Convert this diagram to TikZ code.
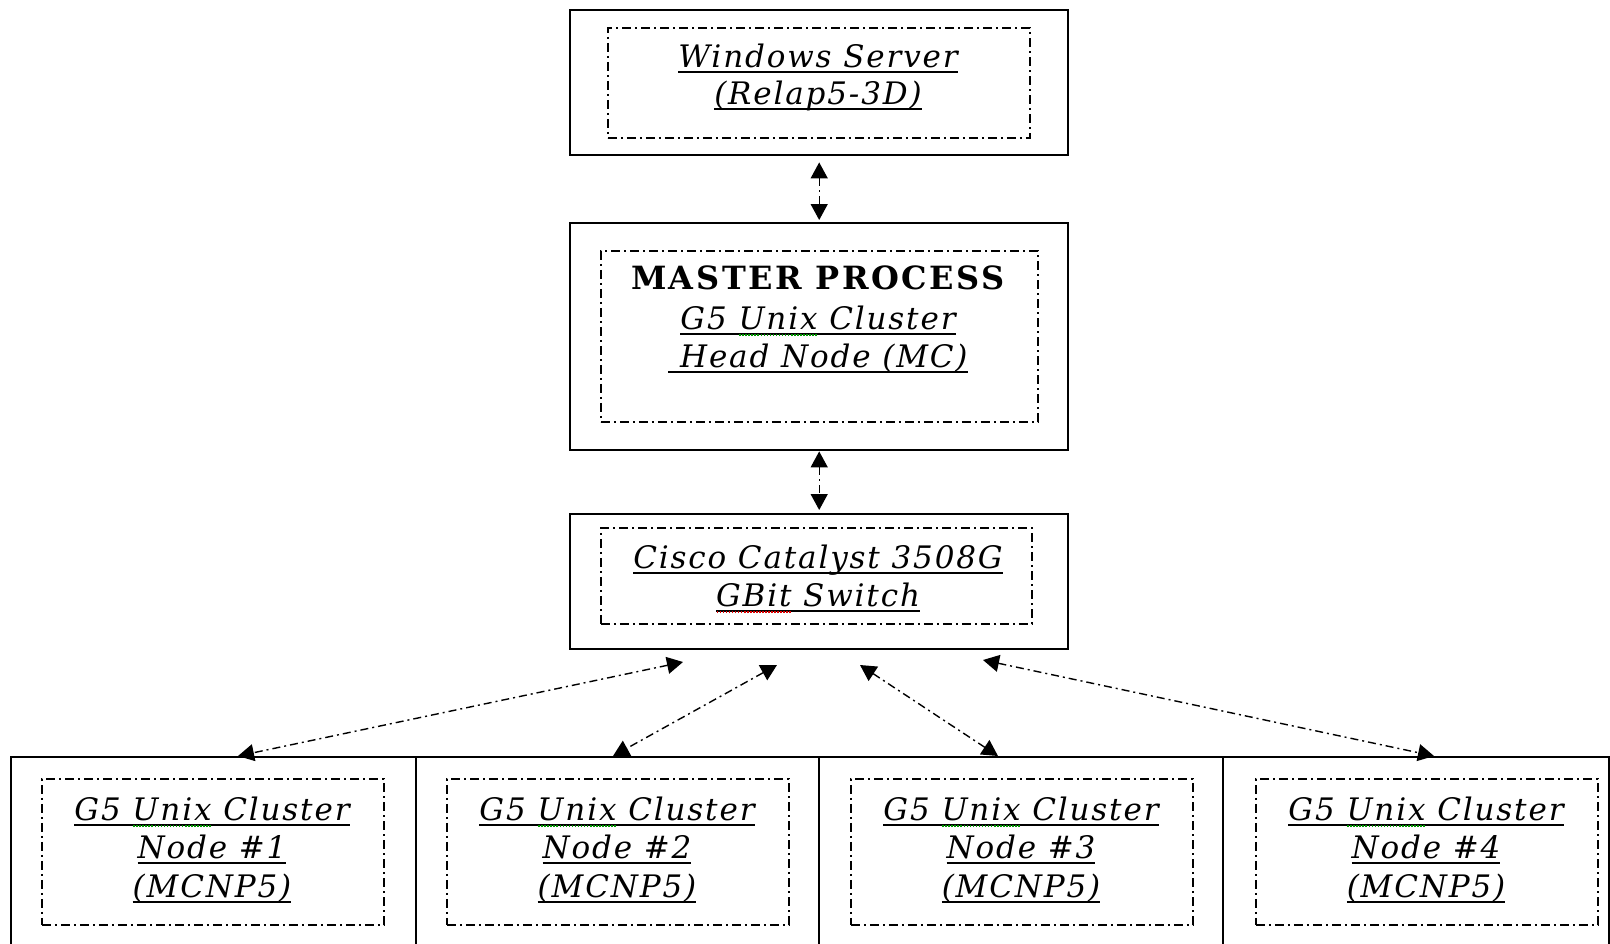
\documentclass[tikz,border=0pt]{standalone}
\usepackage{fontspec}
\setmainfont{DejaVu Serif}
\newfontfamily\lblfont[LetterSpace=6]{DejaVu Serif}
\newfontfamily\boldlblfont[LetterSpace=8]{DejaVu Serif}
\usetikzlibrary{arrows.meta}
\newsavebox\ulbox
\newsavebox\sqbox
\newcommand\myul[1]{\sbox\ulbox{#1}\rlap{\rule[-6pt]{\wd\ulbox}{1.8pt}}\usebox\ulbox}
\newcommand\sqig[2]{\sbox\sqbox{#2}\rlap{\color{#1}\raisebox{-7pt}{\hbox to\wd\sqbox{\xleaders\hbox to 3pt{\hss\rule{1.6pt}{1.6pt}\hss}\hfill}}}\usebox\sqbox}
\definecolor{spellgreen}{RGB}{0,150,0}
\definecolor{spellred}{RGB}{220,0,0}
\begin{document}
\begin{tikzpicture}[x=1pt,y=-1pt,
  outerbox/.style={draw,line width=2.4pt,inner sep=0pt,anchor=north west},
  innerbox/.style={draw,line width=1.5pt,dash pattern=on 9pt off 4pt on 2pt off 4pt,inner sep=0pt,anchor=north west},
  conn/.style={line width=1.4pt,dash pattern=on 8pt off 4pt on 2pt off 4pt,
    {Triangle[length=16pt,width=17pt]}-{Triangle[length=16pt,width=17pt]}},
  lbl/.style={font=\fontsize{31}{36}\lblfont\itshape,inner sep=0pt,anchor=base},
  boldlbl/.style={font=\fontsize{32}{36}\boldlblfont\bfseries,inner sep=0pt,anchor=base}]
\useasboundingbox (0,0) rectangle (1610,943);
% top
\node[outerbox,minimum width=498,minimum height=145] (top) at (569,9) {};
\node[innerbox,minimum width=422,minimum height=110] (topin) at (607,27) {};
\node[lbl] (t1) at (818,67) {\myul{Windows Server}};
\node[lbl] (t2) at (818,104) {\myul{(Relap5-3D)}};
% master
\node[outerbox,minimum width=498,minimum height=227] (master) at (569,222) {};
\node[innerbox,minimum width=437,minimum height=171] (masterin) at (600,250) {};
\node[boldlbl] (m1) at (818,289) {MASTER PROCESS};
\node[lbl] (m2) at (818,329) {\myul{G5 \sqig{spellgreen}{Unix} Cluster}};
\node[lbl] (m3) at (818,367) {\myul{ Head Node (MC)}};
% switch
\node[outerbox,minimum width=498,minimum height=135] (sw) at (569,513) {};
\node[innerbox,minimum width=431,minimum height=96] (swin) at (600,527) {};
\node[lbl] (s1) at (818,568) {\myul{Cisco Catalyst 3508G}};
\node[lbl] (s2) at (818,606) {\myul{\sqig{spellred}{GBit} Switch}};
% bottom nodes
\node[outerbox,minimum width=405,minimum height=220] (n1) at (10,756) {};
\node[outerbox,minimum width=403,minimum height=220] (n2) at (415,756) {};
\node[outerbox,minimum width=404,minimum height=220] (n3) at (818,756) {};
\node[outerbox,minimum width=386,minimum height=220] (n4) at (1222,756) {};
\node[innerbox,minimum width=342,minimum height=146] (in1) at (41,778) {};
\node[innerbox,minimum width=342,minimum height=146] (in2) at (446,778) {};
\node[innerbox,minimum width=342,minimum height=146] (in3) at (850,778) {};
\node[innerbox,minimum width=342,minimum height=146] (in4) at (1255,778) {};
\foreach \i/\cx in {1/212,2/617,3/1021,4/1426}{
  \node[lbl] (a\i) at (\cx,820) {\myul{G5 \sqig{spellgreen}{Unix} Cluster}};
  \node[lbl] (b\i) at (\cx,858) {\myul{Node \#\i}};
  \node[lbl] (c\i) at (\cx,897) {\myul{(MCNP5)}};
}
% connectors
\draw[conn,shorten <=6pt,shorten >=2pt] (top.south) -- (master.north);
\draw[conn,shorten >=3pt] (master.south) -- (sw.north);
\coordinate (u1) at (683,662);
\coordinate (u2) at (777,665);
\coordinate (u3) at (860,665);
\coordinate (u4) at (983,660);
\coordinate (d1) at (238,756);
\coordinate (d2) at (613,756);
\coordinate (d3) at (998,756);
\coordinate (d4) at (1434,756);
\foreach \i in {1,2,3,4}{\draw[conn] (u\i) -- (d\i);}
\end{tikzpicture}
\end{document}
